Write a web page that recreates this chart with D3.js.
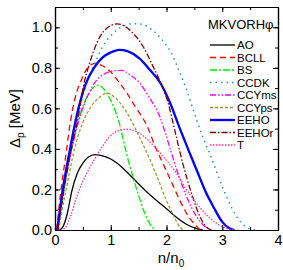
<!DOCTYPE html>
<html>
<head>
<meta charset="utf-8">
<script src="https://cdn.jsdelivr.net/npm/d3@7"></script>
<style>
html,body{margin:0;padding:0;background:#fff;}
svg{display:block;font-family:"Liberation Sans",Arial,Helvetica,sans-serif;}
</style>
</head>
<body>
<svg id="chart" width="283" height="270"></svg>
<script>
// ---- data ----
const legendTitle = "MKVORHφ";
const seriesNames = ["AO","BCLL","BS","CCDK","CCYms","CCYps","EEHO","EEHOr","T"];

const AO_n = [0.08,0.15,0.22,0.3,0.4,0.5,0.6,0.72,0.82,1.0,1.2,1.4,1.6,1.8,2.0,2.2,2.4,2.55,2.65];
const AO_d = [0,0.02,0.08,0.19,0.28,0.33,0.36,0.372,0.368,0.35,0.31,0.255,0.2,0.15,0.105,0.058,0.022,0.006,0];

const BCLL_n = [0.03,0.1,0.2,0.28,0.36,0.48,0.6,0.72,0.85,1.0,1.14,1.29,1.4,1.52,1.64,1.8,1.95,2.1,2.25,2.4,2.5,2.6];
const BCLL_d = [0,0.18,0.38,0.54,0.65,0.745,0.805,0.822,0.81,0.78,0.732,0.675,0.626,0.575,0.52,0.41,0.32,0.23,0.14,0.065,0.03,0];

const BS_n = [0.05,0.15,0.3,0.45,0.6,0.7,0.78,0.86,0.95,1.05,1.14,1.29,1.4,1.5,1.6,1.7,1.8];
const BS_d = [0,0.18,0.4,0.57,0.67,0.705,0.715,0.7,0.665,0.61,0.54,0.37,0.26,0.17,0.09,0.03,0];

const CCDK_n = [0.05,0.15,0.3,0.45,0.6,0.72,0.84,0.99,1.1,1.25,1.4,1.55,1.73,1.93,2.08,2.23,2.35,2.44,2.54,2.66,2.8,2.95,3.1,3.25,3.4,3.5,3.58];
const CCDK_d = [0,0.2,0.42,0.61,0.75,0.825,0.897,0.955,0.985,1.008,1.018,1.015,0.99,0.935,0.876,0.782,0.70,0.626,0.543,0.453,0.36,0.25,0.15,0.07,0.02,0.005,0];

const CCYms_n = [0.05,0.15,0.3,0.45,0.6,0.75,0.9,1.05,1.2,1.35,1.52,1.7,1.88,2.0,2.18,2.36,2.54,2.7,2.82];
const CCYms_d = [0,0.19,0.4,0.56,0.67,0.74,0.772,0.785,0.787,0.765,0.724,0.65,0.56,0.46,0.3,0.165,0.066,0.015,0];

const CCYps_n = [0.06,0.2,0.35,0.5,0.65,0.8,0.93,1.05,1.2,1.35,1.52,1.7,1.85,2.0,2.12,2.24,2.3];
const CCYps_d = [0,0.2,0.4,0.53,0.61,0.655,0.675,0.66,0.615,0.55,0.455,0.35,0.25,0.145,0.075,0.015,0];

const EEHO_n = [0.04,0.14,0.27,0.42,0.55,0.7,0.85,1.0,1.15,1.3,1.52,1.7,1.88,2.06,2.24,2.4,2.55,2.7,2.85,3.0,3.12,3.22];
const EEHO_d = [0,0.2,0.4,0.6,0.72,0.8,0.85,0.876,0.889,0.882,0.845,0.79,0.73,0.63,0.5,0.39,0.29,0.19,0.11,0.04,0.01,0];

const EEHOr_n = [0.05,0.15,0.28,0.42,0.51,0.63,0.81,0.95,1.12,1.25,1.4,1.58,1.76,1.91,2.03,2.15,2.3,2.45,2.6,2.7,2.8];
const EEHOr_d = [0,0.18,0.38,0.56,0.708,0.831,0.955,1.0,1.017,1.005,0.971,0.905,0.806,0.716,0.626,0.49,0.32,0.18,0.066,0.02,0];

const T_n = [0.1,0.18,0.28,0.39,0.5,0.57,0.7,0.81,0.95,1.05,1.18,1.29,1.4,1.52,1.7,1.94,2.18,2.36,2.54,2.72,2.9,3.08,3.2];
const T_d = [0,0.01,0.07,0.165,0.24,0.28,0.345,0.395,0.45,0.477,0.493,0.497,0.492,0.477,0.435,0.362,0.28,0.198,0.132,0.074,0.033,0.008,0];

const xTicks = [0,1,2,3,4];
const yTicks = [0.0,0.2,0.4,0.6,0.8,1.0];

// ---- styles ----
const styles = {
  AO:    {color:"#000000", width:1.3, dash:null},
  BCLL:  {color:"#ff0000", width:1.3, dash:"6,4"},
  BS:    {color:"#00ee00", width:1.3, dash:"7,2,2,2"},
  CCDK:  {color:"#2a9a9a", width:1.5, dash:"1.5,4"},
  CCYms: {color:"#ff00ff", width:1.3, dash:"6,2,1.5,2,1.5,2"},
  CCYps: {color:"#999933", width:1.3, dash:"3,2"},
  EEHO:  {color:"#0000ff", width:2.3, dash:null},
  EEHOr: {color:"#800000", width:1.3, dash:"6,2,1.5,2"},
  T:     {color:"#ff3399", width:1.3, dash:"1.5,1.5"}
};
const seriesData = {
  AO:[AO_n,AO_d], BCLL:[BCLL_n,BCLL_d], BS:[BS_n,BS_d], CCDK:[CCDK_n,CCDK_d],
  CCYms:[CCYms_n,CCYms_d], CCYps:[CCYps_n,CCYps_d], EEHO:[EEHO_n,EEHO_d],
  EEHOr:[EEHOr_n,EEHOr_d], T:[T_n,T_d]
};

const L=55, R=278, T0=7, B=230;
const svg = d3.select("#chart");
const x = d3.scaleLinear().domain([0,4]).range([L,R]);
const y = d3.scaleLinear().domain([0,1.1]).range([B,T0]);

svg.append("defs").append("clipPath").attr("id","clip")
  .append("rect").attr("x",L).attr("y",T0).attr("width",R-L).attr("height",B-T0);

const line = d3.line().x(d=>x(d[0])).y(d=>y(d[1])).curve(d3.curveMonotoneX);

const g = svg.append("g").attr("clip-path","url(#clip)");
seriesNames.forEach(name=>{
  const [ns,ds] = seriesData[name];
  const pts = ns.map((v,i)=>[v,ds[i]]);
  const st = styles[name];
  g.append("path").attr("d",line(pts)).attr("fill","none")
    .attr("stroke",st.color).attr("stroke-width",st.width)
    .attr("stroke-dasharray",st.dash);
});

// axes
const tickFont = 14.5;
const xMinor = d3.range(0,4.01,0.5);
const yMinor = d3.range(0,1.101,0.1);
function addAxis(gen, transform, showLabels){
  const a = svg.append("g").attr("transform",transform).call(gen);
  a.select(".domain").attr("stroke-width",1.2);
  a.selectAll("text").attr("font-size",tickFont).attr("font-family","Liberation Sans, Arial, sans-serif").attr("fill","#000");
  if(!showLabels) a.selectAll("text").remove();
  a.selectAll(".tick line").attr("stroke-width",1);
  return a;
}
// bottom
addAxis(d3.axisBottom(x).tickValues(xMinor).tickSizeInner(-3).tickSizeOuter(0).tickFormat(""), `translate(0,${B})`, false);
addAxis(d3.axisBottom(x).tickValues(xTicks).tickSizeInner(-5).tickSizeOuter(0).tickPadding(5).tickFormat(d3.format("d")), `translate(0,${B})`, true);
// top
addAxis(d3.axisTop(x).tickValues(xMinor).tickSizeInner(-3).tickSizeOuter(0).tickFormat(""), `translate(0,${T0})`, false);
addAxis(d3.axisTop(x).tickValues(xTicks).tickSizeInner(-5).tickSizeOuter(0).tickFormat(""), `translate(0,${T0})`, false);
// left
addAxis(d3.axisLeft(y).tickValues(yMinor).tickSizeInner(-3).tickSizeOuter(0).tickFormat(""), `translate(${L},0)`, false);
addAxis(d3.axisLeft(y).tickValues(yTicks).tickSizeInner(-5).tickSizeOuter(0).tickPadding(3).tickFormat(d3.format(".1f")), `translate(${L},0)`, true);
// right
addAxis(d3.axisRight(y).tickValues(yMinor).tickSizeInner(-3).tickSizeOuter(0).tickFormat(""), `translate(${R},0)`, false);
addAxis(d3.axisRight(y).tickValues(yTicks).tickSizeInner(-5).tickSizeOuter(0).tickFormat(""), `translate(${R},0)`, false);

// axis titles
const xt = svg.append("text").attr("x",171).attr("y",263).attr("text-anchor","middle")
  .attr("font-size",15).attr("fill","#000");
xt.append("tspan").text("n/n");
xt.append("tspan").attr("font-size",10).attr("dy",4).text("0");

const yt = svg.append("text").attr("transform",`translate(20,${(T0+B)/2}) rotate(-90)`)
  .attr("text-anchor","middle").attr("font-size",15).attr("fill","#000");
yt.append("tspan").text("Δ");
yt.append("tspan").attr("font-size",10).attr("dy",4).text("p");
yt.append("tspan").attr("dy",-4).text(" [MeV]");

// legend
svg.append("text").attr("x",208).attr("y",29).attr("font-size",13).attr("fill","#000").text(legendTitle);
const lg = svg.append("g");
seriesNames.forEach((name,i)=>{
  const yy = 45 + i*12.5;
  const st = styles[name];
  lg.append("line").attr("x1",210).attr("x2",235).attr("y1",yy).attr("y2",yy)
    .attr("stroke",st.color).attr("stroke-width",st.width).attr("stroke-dasharray",st.dash);
  lg.append("text").attr("x",237).attr("y",yy+4).attr("font-size",11.5).attr("fill","#000").text(name);
});
</script>
</body>
</html>
